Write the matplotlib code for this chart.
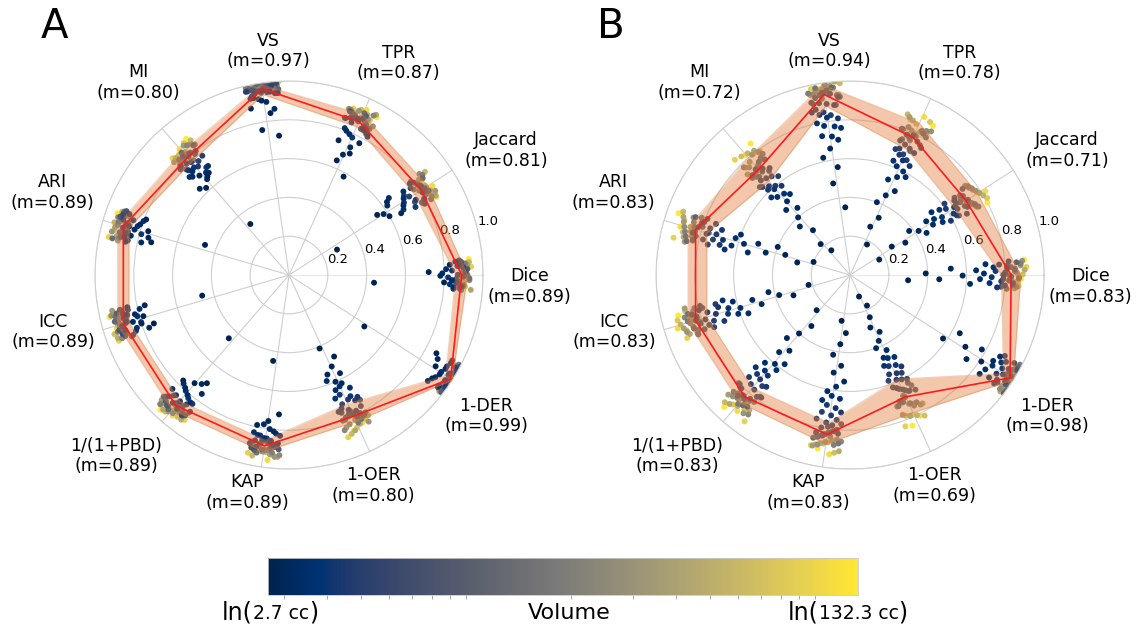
import numpy as np
import matplotlib.pyplot as plt
from matplotlib.colors import LogNorm
from matplotlib.ticker import NullFormatter

# metric order, counter-clockwise from 0 deg
metrics = ["Dice", "Jaccard", "TPR", "VS", "MI", "ARI", "ICC",
           "1/(1+PBD)", "KAP", "1-OER", "1-DER"]

# tumour volume per case (cc), ascending
volume_cc = [2.7, 2.8, 2.9, 3.0, 3.1, 3.2, 3.3, 3.4, 3.5, 3.6,
             3.8, 3.9, 4.1, 4.3, 4.5, 4.7, 4.9, 5.2, 5.5, 5.8,
             6.1, 6.5, 6.9, 7.3, 7.8, 8.3, 8.9, 9.5, 10.2, 10.9,
             11.7, 12.6, 13.5, 14.5, 15.6, 16.8, 18.1, 19.5, 21.0, 22.7,
             24.5, 26.5, 28.7, 31.0, 33.6, 36.4, 39.5, 43.0, 48.5, 54.7,
             61.7, 69.6, 78.5, 92.0, 110.0, 132.3]

# ---- panel A ----
median_a = [0.89, 0.81, 0.87, 0.97, 0.80, 0.89, 0.89, 0.89, 0.89, 0.80, 0.99]
q1_a = [0.86, 0.77, 0.84, 0.94, 0.77, 0.86, 0.86, 0.86, 0.86, 0.73, 0.96]
q3_a = [0.92, 0.85, 0.91, 0.99, 0.84, 0.92, 0.92, 0.92, 0.92, 0.83, 1.00]

dice_a = [0.44, 0.72, 0.80, 0.83, 0.78, 0.85, 0.81, 0.84, 0.86, 0.79, 0.83, 0.87, 0.82, 0.85, 0.84,
          0.86, 0.88, 0.87, 0.89, 0.90, 0.86, 0.88, 0.91, 0.87, 0.89, 0.90, 0.88, 0.92, 0.87, 0.89,
          0.91, 0.90, 0.88, 0.93, 0.89, 0.90, 0.87, 0.91, 0.92, 0.89, 0.90, 0.93, 0.88, 0.91, 0.90,
          0.92, 0.89, 0.94, 0.91, 0.90, 0.93, 0.92, 0.91, 0.94, 0.92, 0.93]
jaccard_a = [0.28, 0.55, 0.60, 0.63, 0.58, 0.66, 0.62, 0.69, 0.65, 0.71, 0.68, 0.73, 0.70, 0.74, 0.72,
             0.76, 0.78, 0.74, 0.80, 0.77, 0.81, 0.79, 0.82, 0.75, 0.80, 0.83, 0.78, 0.81, 0.84, 0.79,
             0.82, 0.80, 0.85, 0.81, 0.83, 0.78, 0.82, 0.86, 0.80, 0.84, 0.81, 0.83, 0.85, 0.82, 0.87,
             0.83, 0.84, 0.86, 0.82, 0.85, 0.88, 0.84, 0.86, 0.85, 0.87, 0.86]
tpr_a = [0.58, 0.64, 0.70, 0.74, 0.68, 0.77, 0.80, 0.73, 0.82, 0.79, 0.84, 0.81, 0.78, 0.83, 0.85,
         0.84, 0.86, 0.88, 0.85, 0.87, 0.89, 0.83, 0.88, 0.86, 0.90, 0.87, 0.85, 0.89, 0.91, 0.86,
         0.88, 0.87, 0.90, 0.92, 0.86, 0.89, 0.88, 0.91, 0.87, 0.93, 0.89, 0.90, 0.88, 0.92, 0.90,
         0.91, 0.89, 0.94, 0.90, 0.92, 0.91, 0.93, 0.90, 0.92, 0.94, 0.93]
vs_a = [0.72, 0.76, 0.84, 0.88, 0.91, 0.86, 0.93, 0.90, 0.94, 0.92, 0.95, 0.93, 0.96, 0.94, 0.95,
        0.95, 0.97, 0.96, 0.98, 0.94, 0.97, 0.99, 0.96, 0.98, 0.97, 0.95, 0.99, 0.97, 0.98, 0.96,
        1.00, 0.97, 0.98, 0.99, 0.96, 0.98, 0.97, 0.99, 0.98, 1.00, 0.97, 0.99, 0.98, 0.96, 0.99,
        0.98, 1.00, 0.97, 0.99, 0.98, 1.00, 0.99, 0.98, 1.00, 0.99, 0.98]
mi_a = [0.33, 0.62, 0.66, 0.64, 0.69, 0.67, 0.71, 0.65, 0.70, 0.73, 0.68, 0.72, 0.74, 0.70, 0.75,
        0.73, 0.76, 0.78, 0.75, 0.79, 0.77, 0.80, 0.74, 0.81, 0.78, 0.82, 0.79, 0.76, 0.80, 0.83,
        0.78, 0.81, 0.79, 0.84, 0.80, 0.82, 0.77, 0.83, 0.81, 0.85, 0.80, 0.82, 0.84, 0.81, 0.86,
        0.83, 0.82, 0.85, 0.84, 0.83, 0.86, 0.84, 0.87, 0.85, 0.86, 0.88]
ari_a = [0.46, 0.73, 0.76, 0.79, 0.75, 0.81, 0.78, 0.83, 0.80, 0.84, 0.82, 0.86, 0.79, 0.85, 0.87,
         0.86, 0.88, 0.87, 0.90, 0.85, 0.89, 0.91, 0.87, 0.88, 0.90, 0.86, 0.92, 0.89, 0.88, 0.91,
         0.90, 0.87, 0.93, 0.89, 0.90, 0.88, 0.92, 0.91, 0.89, 0.93, 0.90, 0.92, 0.88, 0.94, 0.91,
         0.90, 0.93, 0.92, 0.91, 0.94, 0.92, 0.93, 0.91, 0.95, 0.93, 0.94]
icc_a = [0.46, 0.74, 0.78, 0.76, 0.80, 0.82, 0.77, 0.84, 0.79, 0.83, 0.81, 0.85, 0.80, 0.86, 0.84,
         0.87, 0.85, 0.89, 0.88, 0.86, 0.90, 0.88, 0.91, 0.87, 0.89, 0.92, 0.86, 0.90, 0.88, 0.91,
         0.89, 0.93, 0.87, 0.90, 0.92, 0.89, 0.91, 0.88, 0.93, 0.90, 0.92, 0.91, 0.94, 0.89, 0.92,
         0.93, 0.91, 0.90, 0.94, 0.92, 0.93, 0.95, 0.91, 0.94, 0.93, 0.95]
pbd_a = [0.45, 0.70, 0.74, 0.77, 0.72, 0.79, 0.76, 0.81, 0.78, 0.83, 0.80, 0.84, 0.82, 0.85, 0.83,
         0.86, 0.88, 0.85, 0.89, 0.87, 0.90, 0.86, 0.91, 0.88, 0.89, 0.87, 0.92, 0.90, 0.88, 0.91,
         0.89, 0.93, 0.90, 0.87, 0.92, 0.91, 0.89, 0.94, 0.90, 0.92, 0.88, 0.93, 0.91, 0.90, 0.94,
         0.92, 0.91, 0.95, 0.93, 0.92, 0.94, 0.93, 0.95, 0.92, 0.94, 0.96]
kap_a = [0.45, 0.72, 0.76, 0.79, 0.81, 0.78, 0.83, 0.80, 0.84, 0.82, 0.85, 0.83, 0.86, 0.84, 0.87,
         0.85, 0.87, 0.88, 0.86, 0.89, 0.87, 0.90, 0.88, 0.86, 0.91, 0.89, 0.88, 0.90, 0.87, 0.92,
         0.89, 0.91, 0.88, 0.90, 0.93, 0.89, 0.91, 0.90, 0.92, 0.88, 0.93, 0.91, 0.90, 0.94, 0.92,
         0.91, 0.93, 0.90, 0.94, 0.92, 0.95, 0.93, 0.92, 0.94, 0.96, 0.93]
oer_a = [0.41, 0.48, 0.52, 0.55, 0.57, 0.60, 0.58, 0.62, 0.64, 0.66, 0.63, 0.68, 0.70, 0.67, 0.72,
         0.71, 0.74, 0.73, 0.76, 0.75, 0.78, 0.72, 0.77, 0.79, 0.76, 0.80, 0.78, 0.74, 0.81, 0.79,
         0.82, 0.77, 0.80, 0.83, 0.79, 0.81, 0.84, 0.80, 0.82, 0.78, 0.85, 0.81, 0.83, 0.86, 0.82,
         0.84, 0.81, 0.87, 0.83, 0.85, 0.88, 0.84, 0.86, 0.89, 0.85, 0.87]
der_a = [0.47, 0.86, 0.89, 0.91, 0.88, 0.93, 0.90, 0.94, 0.92, 0.95, 0.93, 0.96, 0.94, 0.97, 0.95,
         0.97, 0.99, 0.98, 1.00, 0.96, 0.99, 0.98, 1.00, 0.97, 0.99, 1.00, 0.98, 0.99, 1.00, 0.97,
         0.99, 1.00, 0.98, 0.99, 1.00, 0.99, 0.98, 1.00, 0.99, 1.00, 0.97, 0.99, 1.00, 0.98, 1.00,
         0.99, 1.00, 0.99, 0.98, 1.00, 0.99, 1.00, 1.00, 0.99, 1.00, 0.98]

# ---- panel B ----
median_b = [0.83, 0.71, 0.78, 0.94, 0.72, 0.83, 0.83, 0.83, 0.83, 0.69, 0.98]
q1_b = [0.78, 0.64, 0.71, 0.88, 0.64, 0.77, 0.77, 0.77, 0.77, 0.59, 0.94]
q3_b = [0.88, 0.78, 0.86, 0.99, 0.80, 0.87, 0.87, 0.87, 0.88, 0.78, 1.00]

dice_b = [0.30, 0.39, 0.46, 0.52, 0.58, 0.62, 0.65, 0.67, 0.70, 0.69, 0.72, 0.74, 0.73, 0.76, 0.75,
          0.78, 0.77, 0.79, 0.80, 0.81, 0.79, 0.82, 0.80, 0.84, 0.81, 0.83, 0.78, 0.85, 0.82, 0.86,
          0.80, 0.84, 0.83, 0.87, 0.81, 0.85, 0.84, 0.88, 0.82, 0.86, 0.85, 0.83, 0.89, 0.86, 0.84,
          0.88, 0.87, 0.85, 0.90, 0.86, 0.88, 0.89, 0.87, 0.91, 0.88, 0.90]
jaccard_b = [0.17, 0.26, 0.33, 0.38, 0.42, 0.45, 0.48, 0.50, 0.53, 0.52, 0.55, 0.57, 0.56, 0.59, 0.60,
             0.62, 0.61, 0.64, 0.63, 0.66, 0.65, 0.68, 0.66, 0.70, 0.67, 0.72, 0.64, 0.71, 0.69, 0.73,
             0.68, 0.74, 0.70, 0.72, 0.75, 0.69, 0.73, 0.76, 0.71, 0.74, 0.77, 0.72, 0.75, 0.78, 0.73,
             0.76, 0.79, 0.74, 0.77, 0.80, 0.76, 0.78, 0.81, 0.77, 0.82, 0.80]
tpr_b = [0.18, 0.27, 0.33, 0.40, 0.45, 0.49, 0.53, 0.56, 0.58, 0.61, 0.60, 0.63, 0.65, 0.64, 0.67,
         0.66, 0.69, 0.68, 0.71, 0.70, 0.72, 0.75, 0.73, 0.77, 0.74, 0.79, 0.76, 0.78, 0.71, 0.80,
         0.77, 0.82, 0.75, 0.79, 0.81, 0.78, 0.83, 0.80, 0.76, 0.84, 0.82, 0.79, 0.85, 0.81, 0.83,
         0.87, 0.80, 0.84, 0.86, 0.82, 0.88, 0.85, 0.89, 0.86, 0.90, 0.88]
vs_b = [0.35, 0.48, 0.56, 0.62, 0.66, 0.70, 0.73, 0.72, 0.76, 0.78, 0.77, 0.80, 0.82, 0.81, 0.84,
        0.83, 0.86, 0.85, 0.88, 0.87, 0.89, 0.92, 0.90, 0.94, 0.91, 0.95, 0.88, 0.93, 0.96, 0.92,
        0.94, 0.97, 0.90, 0.95, 0.93, 0.98, 0.94, 0.96, 0.92, 0.97, 0.95, 0.99, 0.93, 0.96, 0.98,
        0.95, 0.97, 1.00, 0.96, 0.98, 0.99, 0.97, 1.00, 0.98, 0.99, 1.00]
mi_b = [0.16, 0.22, 0.30, 0.36, 0.40, 0.44, 0.47, 0.50, 0.52, 0.55, 0.54, 0.57, 0.59, 0.58, 0.61,
        0.60, 0.63, 0.62, 0.65, 0.64, 0.66, 0.69, 0.67, 0.71, 0.65, 0.73, 0.68, 0.72, 0.70, 0.74,
        0.69, 0.75, 0.71, 0.73, 0.76, 0.70, 0.74, 0.77, 0.72, 0.75, 0.78, 0.73, 0.79, 0.76, 0.80,
        0.74, 0.78, 0.81, 0.77, 0.82, 0.79, 0.83, 0.80, 0.84, 0.82, 0.85]
ari_b = [0.20, 0.28, 0.35, 0.40, 0.45, 0.50, 0.54, 0.57, 0.60, 0.63, 0.62, 0.66, 0.68, 0.70, 0.69,
         0.72, 0.74, 0.73, 0.76, 0.75, 0.77, 0.80, 0.78, 0.82, 0.79, 0.84, 0.81, 0.83, 0.76, 0.85,
         0.82, 0.80, 0.86, 0.83, 0.81, 0.87, 0.84, 0.82, 0.88, 0.85, 0.83, 0.89, 0.86, 0.84, 0.90,
         0.87, 0.85, 0.91, 0.88, 0.86, 0.92, 0.89, 0.90, 0.93, 0.91, 0.94]
icc_b = [0.22, 0.31, 0.38, 0.43, 0.48, 0.52, 0.56, 0.59, 0.62, 0.61, 0.65, 0.67, 0.66, 0.70, 0.69,
         0.72, 0.71, 0.74, 0.76, 0.75, 0.78, 0.80, 0.77, 0.82, 0.79, 0.81, 0.84, 0.80, 0.83, 0.78,
         0.85, 0.82, 0.84, 0.81, 0.86, 0.83, 0.87, 0.82, 0.85, 0.88, 0.84, 0.86, 0.83, 0.89, 0.85,
         0.87, 0.90, 0.86, 0.88, 0.91, 0.87, 0.89, 0.92, 0.90, 0.93, 0.91]
pbd_b = [0.25, 0.33, 0.40, 0.46, 0.50, 0.54, 0.57, 0.60, 0.63, 0.62, 0.66, 0.68, 0.67, 0.70, 0.72,
         0.71, 0.74, 0.73, 0.76, 0.78, 0.77, 0.81, 0.79, 0.83, 0.80, 0.82, 0.85, 0.78, 0.84, 0.81,
         0.86, 0.83, 0.80, 0.87, 0.84, 0.82, 0.88, 0.85, 0.83, 0.86, 0.89, 0.84, 0.87, 0.90, 0.85,
         0.88, 0.86, 0.91, 0.87, 0.89, 0.92, 0.88, 0.90, 0.93, 0.91, 0.94]
kap_b = [0.24, 0.30, 0.36, 0.42, 0.47, 0.51, 0.55, 0.58, 0.61, 0.64, 0.63, 0.66, 0.69, 0.68, 0.71,
         0.73, 0.72, 0.75, 0.77, 0.76, 0.78, 0.80, 0.82, 0.79, 0.83, 0.81, 0.84, 0.77, 0.82, 0.85,
         0.80, 0.83, 0.86, 0.81, 0.84, 0.87, 0.82, 0.85, 0.88, 0.83, 0.86, 0.84, 0.89, 0.85, 0.87,
         0.90, 0.86, 0.88, 0.91, 0.87, 0.89, 0.92, 0.88, 0.90, 0.93, 0.91]
oer_b = [0.12, 0.18, 0.24, 0.29, 0.33, 0.37, 0.40, 0.43, 0.46, 0.48, 0.47, 0.50, 0.52, 0.51, 0.54,
         0.56, 0.55, 0.57, 0.59, 0.58, 0.60, 0.63, 0.61, 0.65, 0.62, 0.67, 0.64, 0.68, 0.66, 0.70,
         0.63, 0.69, 0.72, 0.67, 0.71, 0.65, 0.73, 0.70, 0.74, 0.68, 0.72, 0.75, 0.71, 0.76, 0.73,
         0.77, 0.74, 0.79, 0.76, 0.80, 0.78, 0.82, 0.79, 0.83, 0.81, 0.84]
der_b = [0.58, 0.64, 0.70, 0.74, 0.78, 0.81, 0.84, 0.86, 0.85, 0.88, 0.87, 0.89, 0.90, 0.91, 0.90,
         0.92, 0.93, 0.92, 0.94, 0.93, 0.95, 0.97, 0.96, 0.98, 0.94, 0.99, 0.97, 1.00, 0.96, 0.98,
         0.99, 0.95, 1.00, 0.97, 0.98, 0.99, 0.96, 1.00, 0.98, 0.99, 0.97, 1.00, 0.98, 0.99, 1.00,
         0.97, 0.99, 1.00, 0.98, 0.99, 1.00, 0.99, 1.00, 0.98, 1.00, 0.99]

scores_a = [dice_a, jaccard_a, tpr_a, vs_a, mi_a, ari_a, icc_a, pbd_a, kap_a, oer_a, der_a]
scores_b = [dice_b, jaccard_b, tpr_b, vs_b, mi_b, ari_b, icc_b, pbd_b, kap_b, oer_b, der_b]

RED = "#ff1a1a"
BAND = "#e07b39"
GRID = "#cfcfcf"

# where each metric label sits, as a multiple of the outer radius
label_r = [1.24, 1.29, 1.23, 1.16, 1.26, 1.29, 1.25, 1.29, 1.14, 1.17, 1.25]
label_turn = np.deg2rad(-2.8)

n_metrics = len(metrics)
angles = np.arange(n_metrics) * 2 * np.pi / n_metrics
vol = np.array(volume_cc)
norm = LogNorm(vmin=vol.min(), vmax=vol.max())
# big cases first, so the small (dark) ones are drawn over them
draw_order = np.argsort(-vol, kind="stable")


def theta_spread(n, k, width=0.18):
    # small deterministic angular offset so overlapping cases stay visible
    return ((np.arange(n) + 13 * k) * 0.6180339887 % 1.0 - 0.5) * width


def radar(ax, scores, med, lo, hi):
    for k, vals in enumerate(scores):
        vals = np.asarray(vals)
        th = angles[k] + theta_spread(len(vals), k)
        sc = ax.scatter(th[draw_order], vals[draw_order], c=vol[draw_order],
                        cmap="cividis", norm=norm, s=18, linewidths=0, zorder=2)
    th_c = np.append(angles, angles[0])
    lo_c = np.append(lo, lo[0])
    hi_c = np.append(hi, hi[0])
    ax.fill_between(th_c, lo_c, hi_c, color=BAND, alpha=0.42, lw=0, zorder=3)
    ax.plot(th_c, lo_c, color=BAND, alpha=0.35, lw=0.9, zorder=3)
    ax.plot(th_c, hi_c, color=BAND, alpha=0.35, lw=0.9, zorder=3)
    ax.plot(th_c, np.append(med, med[0]), color=RED, lw=1.2, zorder=4)

    ax.set_ylim(0, 1.0)
    ax.set_yticks([0.2, 0.4, 0.6, 0.8, 1.0])
    ax.set_yticklabels(["0.2", "0.4", "0.6", "0.8", "1.0"], fontsize=9.5)
    ax.set_rlabel_position(14)
    ax.set_xticks(angles)
    ax.set_xticklabels([])
    for ang, r, name, m in zip(angles, label_r, metrics, med):
        ax.text(ang + label_turn, r, f"{name}\n(m={m:.2f})", fontsize=12.5,
                ha="center", va="center", ma="center", clip_on=False)
    ax.grid(color=GRID, linewidth=0.8)
    ax.xaxis.get_gridlines()[0].set_color("#e8e8e8")
    ax.spines["polar"].set_color(GRID)
    ax.spines["polar"].set_linewidth(0.8)
    return sc


fig = plt.figure(figsize=(11.39, 6.33), dpi=100)
ax_a = fig.add_axes([0.0834, 0.259, 0.3407, 0.613], projection="polar")
ax_b = fig.add_axes([0.576, 0.259, 0.3407, 0.613], projection="polar")
sc = radar(ax_a, scores_a, median_a, q1_a, q3_a)
radar(ax_b, scores_b, median_b, q1_b, q3_b)

fig.text(0.036, 0.94, "A", fontsize=29, va="baseline")
fig.text(0.524, 0.94, "B", fontsize=29, va="baseline")

# colour bar for case volume
cax = fig.add_axes([0.235, 0.06, 0.518, 0.058])
cb = fig.colorbar(sc, cax=cax, orientation="horizontal")
cb.outline.set_edgecolor("#c8c8c8")
cb.outline.set_linewidth(0.6)
cax.xaxis.set_major_formatter(NullFormatter())
cax.xaxis.set_minor_formatter(NullFormatter())
cax.tick_params(which="both", length=3, width=0.6, color="#999999")

renderer = fig.canvas.get_renderer()
fig_w = fig.bbox.width


def piece_row(x, y, parts, align="left"):
    # draw consecutive text pieces of different sizes on one baseline
    if align == "right":
        parts = parts[::-1]
    for txt, size in parts:
        t = fig.text(x, y, txt, fontsize=size, va="baseline",
                     ha="left" if align == "left" else "right")
        w = t.get_window_extent(renderer).width / fig_w
        x = x + w if align == "left" else x - w


piece_row(0.195, 0.022, [("ln(", 17), ("2.7 cc", 13.5), (")", 17)])
piece_row(0.797, 0.022, [("ln(", 17), ("132.3 cc", 13.5), (")", 17)], align="right")
fig.text(0.5, 0.022, "Volume", fontsize=16, ha="center", va="baseline")

fig.savefig("out.png", dpi=100)
